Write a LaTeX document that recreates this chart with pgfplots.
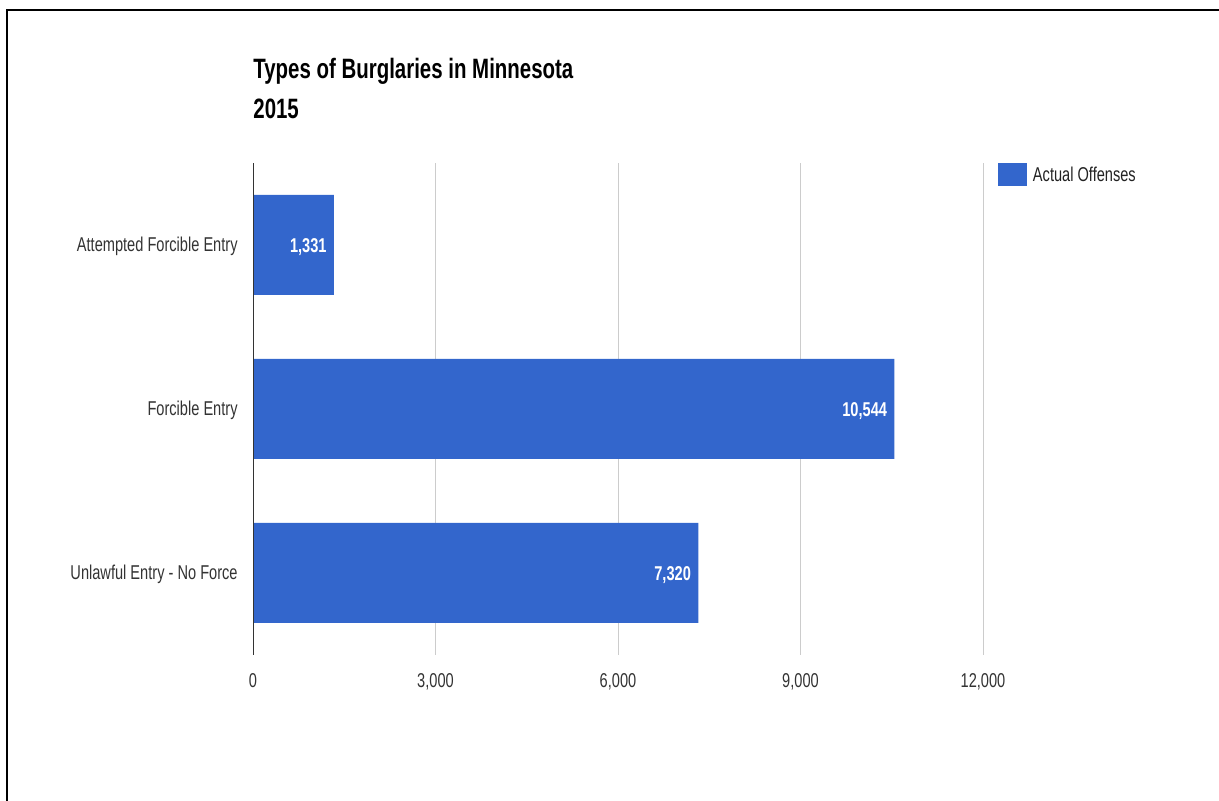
\documentclass[border=0pt]{standalone}
\usepackage{fontspec}
\setmainfont{Liberation Sans}[FakeStretch=0.73]
\usepackage{pgfplots}
\pgfplotsset{compat=1.18}
\definecolor{barblue}{HTML}{3366CC}
\definecolor{gridgray}{HTML}{CCCCCC}
\definecolor{axisdark}{HTML}{333333}
\definecolor{labelgray}{HTML}{222222}

\begin{document}
\begin{tikzpicture}
\useasboundingbox (0,0) rectangle (609.5pt,400.5pt);
% frame (top and left edges only)
\draw[line width=1pt] (3.5pt,0) -- (3.5pt,395.25pt) -- (609.5pt,395.25pt);

\node[anchor=base west, inner sep=0pt, font=\fontsize{14}{17}\selectfont\bfseries]
  at (126.5pt,361pt) {Types of Burglaries in Minnesota};
\node[anchor=base west, inner sep=0pt, font=\fontsize{14}{17}\selectfont\bfseries]
  at (126.5pt,341pt) {2015};

\begin{axis}[
    at={(126.5pt,73pt)}, anchor=south west,
    scale only axis, width=365pt, height=246pt,
    xbar, bar width=50pt,
    xmin=0, xmax=12000, ymin=-0.5, ymax=2.5,
    scaled x ticks=false,
    axis line style={draw=none},
    major tick length=0pt, tick style={draw=none},
    xmajorgrids, grid style={gridgray, line width=0.5pt},
    xtick={0,3000,6000,9000,12000},
    xticklabels={0,{3,000},{6,000},{9,000},{12,000}},
    xticklabel style={anchor=north, inner sep=0pt, yshift=-8.9pt,
        font=\fontsize{10}{12}\selectfont, text=axisdark},
    ytick={0,1,2},
    yticklabels={Unlawful Entry - No Force, Forcible Entry, Attempted Forcible Entry},
    yticklabel style={anchor=base east, inner sep=0pt, xshift=-7.5pt, yshift=-3.4pt,
        font=\fontsize{10}{12}\selectfont, text=axisdark},
    point meta=x,
    nodes near coords={\pgfmathprintnumber[fixed,precision=0,1000 sep={,},assume math mode=true]{\pgfplotspointmeta}},
    nodes near coords style={anchor=base east, inner sep=0pt, xshift=-3.5pt, yshift=-3.6pt,
        text=white, font=\fontsize{10}{12}\selectfont\bfseries},
    legend style={at={(1.0205,1)}, anchor=north west, draw=none, fill=none,
        inner sep=0pt, outer sep=0pt, nodes={inner sep=0pt, text depth=0pt},
        font=\fontsize{10}{12}\selectfont, text=labelgray,
        /tikz/every odd column/.append style={column sep=3pt}},
    legend image code/.code={\fill[barblue] (0pt,-5.75pt) rectangle (14.5pt,5.75pt);},
]
\addplot[fill=barblue, draw=none] coordinates {(7320,0) (10544,1) (1331,2)};
\addlegendentry{Actual Offenses}
\draw[axisdark, line width=0.6pt] (axis cs:0,-0.5) -- (axis cs:0,2.5);
\end{axis}
\end{tikzpicture}
\end{document}
